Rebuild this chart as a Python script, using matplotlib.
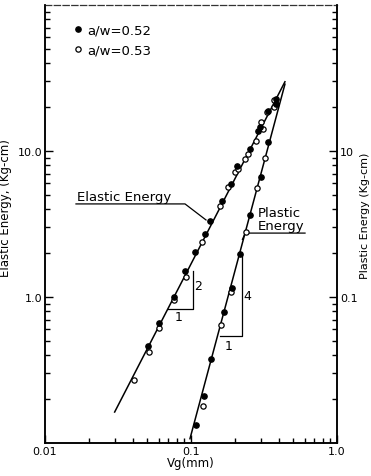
import matplotlib
matplotlib.use("Agg")
import matplotlib.pyplot as plt
from matplotlib.lines import Line2D
from matplotlib.ticker import LogLocator, NullFormatter, FixedLocator, FixedFormatter

# ---------------- data ----------------
# Elastic energy (left axis, Kg-cm) vs Vg (mm)
el_052_x = [0.0510, 0.0607, 0.0765, 0.0914, 0.1065, 0.1247, 0.135, 0.162, 0.187, 0.205,
            0.254, 0.288, 0.296, 0.339, 0.381]
el_052_y = [0.459, 0.661, 0.995, 1.51, 2.04, 2.70, 3.30, 4.57, 5.95, 7.93,
            10.3, 13.8, 14.5, 18.9, 22.7]
el_053_x = [0.0407, 0.0516, 0.0607, 0.0765, 0.0923, 0.1185, 0.158, 0.180, 0.200, 0.211,
            0.234, 0.247, 0.278, 0.304, 0.312, 0.330, 0.370]
el_053_y = [0.270, 0.418, 0.610, 0.954, 1.38, 2.39, 4.22, 5.65, 7.14, 7.52,
            8.82, 9.53, 11.7, 15.8, 14.1, 18.4, 22.2]
# Plastic energy (right axis) vs Vg (mm)
pl_052_x = [0.1077, 0.123, 0.137, 0.167, 0.190, 0.216, 0.254, 0.300, 0.338, 0.381]
pl_052_y = [0.133, 0.211, 0.376, 0.785, 1.15, 1.97, 3.65, 6.61, 11.6, 21.0]
pl_053_x = [0.120, 0.161, 0.188, 0.237, 0.284, 0.320, 0.370]
pl_053_y = [0.178, 0.643, 1.08, 2.80, 5.55, 8.93, 19.9]
# fitted lines
el_fit_x = [0.030, 0.44]
el_fit_y = [0.163, 29.8]
pl_fit_x = [0.0984, 0.44]
pl_fit_y = [0.107, 28.7]

series_labels = ["a/w=0.52", "a/w=0.53"]
x_ticks = [0.01, 0.1, 1.0]
x_tick_labels = ["0.01", "0.1", "1.0"]
left_ticks = [1.0, 10.0]
left_tick_labels = ["1.0", "10.0"]
right_ticks = [1.0, 10.0]
right_tick_labels = ["0.1", "10"]

# ---------------- figure ----------------
plt.rcParams['font.family'] = ['DejaVu Sans']
W, H = 371, 477
fig = plt.figure(figsize=(W / 100, H / 100), dpi=100)
ax = fig.add_axes([45 / W, 1 - 444 / H, (337 - 45) / W, (444 - 6) / H])
ax.set_xscale('log')
ax.set_yscale('log')
ax.set_xlim(0.01, 1.0)
ax.set_ylim(0.1, 100)

axr = ax.twinx()
axr.set_yscale('log')
axr.set_ylim(0.1, 100)

for a in (ax, axr):
    for s in a.spines.values():
        s.set_linewidth(1.1)
ax.spines['top'].set_linestyle((0, (5, 2)))
ax.spines['top'].set_linewidth(0.9)
ax.spines['top'].set_color('#333333')
axr.spines['top'].set_visible(False)

# fit lines
ax.plot(el_fit_x, el_fit_y, color='black', lw=1.1)
axr.plot(pl_fit_x, pl_fit_y, color='black', lw=1.1)

ms = 3.8
ax.plot(el_053_x, el_053_y, 'o', ms=ms, mfc='white', mec='black', mew=0.9, ls='none')
ax.plot(el_052_x, el_052_y, 'o', ms=ms, mfc='black', mec='black', ls='none')
axr.plot(pl_053_x, pl_053_y, 'o', ms=ms, mfc='white', mec='black', mew=0.9, ls='none')
axr.plot(pl_052_x, pl_052_y, 'o', ms=ms, mfc='black', mec='black', ls='none')

# ticks
ax.xaxis.set_major_locator(FixedLocator(x_ticks))
ax.xaxis.set_major_formatter(FixedFormatter(x_tick_labels))
ax.xaxis.set_minor_locator(LogLocator(base=10, subs=range(2, 10)))
ax.xaxis.set_minor_formatter(NullFormatter())
ax.yaxis.set_major_locator(FixedLocator(left_ticks))
ax.yaxis.set_major_formatter(FixedFormatter(left_tick_labels))
ax.yaxis.set_minor_locator(LogLocator(base=10, subs=range(2, 10)))
ax.yaxis.set_minor_formatter(NullFormatter())
axr.yaxis.set_major_locator(FixedLocator(right_ticks))
axr.yaxis.set_major_formatter(FixedFormatter(right_tick_labels))
axr.yaxis.set_minor_locator(LogLocator(base=10, subs=range(2, 10)))
axr.yaxis.set_minor_formatter(NullFormatter())

ax.tick_params(axis='x', which='major', direction='in', length=6, width=1, pad=2, labelsize=8)
ax.tick_params(axis='x', which='minor', direction='in', length=3.5, width=1)
ax.tick_params(axis='y', which='major', direction='in', length=6, width=1, pad=2, labelsize=8)
ax.tick_params(axis='y', which='minor', direction='in', length=3.5, width=1)
axr.tick_params(axis='y', which='major', direction='in', length=6, width=1, pad=2, labelsize=8)
axr.tick_params(axis='y', which='minor', direction='in', length=3.5, width=1)

ax.set_xlabel("Vg(mm)", fontsize=8.5, labelpad=0)
ax.set_ylabel("Elastic Energy, (Kg-cm)", fontsize=8.5)
ax.yaxis.set_label_coords(-0.113, 0.539)
axr.set_ylabel("Plastic Energy (Kg-cm)", fontsize=8, rotation=90)
axr.yaxis.set_label_coords(1.080, 0.521)

# legend
h1 = Line2D([], [], marker='o', ls='none', ms=ms, mfc='black', mec='black')
h2 = Line2D([], [], marker='o', ls='none', ms=ms, mfc='white', mec='black', mew=0.9)
ax.legend([h1, h2], series_labels, loc='upper left', bbox_to_anchor=(0.10, 0.958),
          frameon=False, fontsize=9.5, handlelength=0.6, handletextpad=0.4,
          borderpad=0, borderaxespad=0, labelspacing=0.55)

# annotations
ax.text(0.0166, 4.62, "Elastic Energy", fontsize=9.5, ha='left', va='baseline')
ax.plot([0.0163, 0.0910, 0.1267], [4.34, 4.34, 3.37], color='black', lw=0.9)
ax.text(0.2877, 3.59, "Plastic", fontsize=9.5, ha='left', va='baseline')
ax.text(0.2877, 2.92, "Energy", fontsize=9.5, ha='left', va='baseline')
ax.plot([0.225, 0.235, 0.604], [2.48, 2.74, 2.74], color='black', lw=0.9)

# slope triangles
ax.plot([0.0696, 0.1032, 0.1032], [0.827, 0.827, 1.506], color='black', lw=0.9)
ax.text(0.1116, 1.19, "2", fontsize=9, ha='center', va='center')
ax.text(0.0828, 0.730, "1", fontsize=9, ha='center', va='center')
ax.plot([0.158, 0.2236, 0.2236], [0.540, 0.540, 1.94], color='black', lw=0.9)
ax.text(0.2418, 1.03, "4", fontsize=9, ha='center', va='center')
ax.text(0.182, 0.462, "1", fontsize=9, ha='center', va='center')

fig.savefig("out.png", dpi=100)
